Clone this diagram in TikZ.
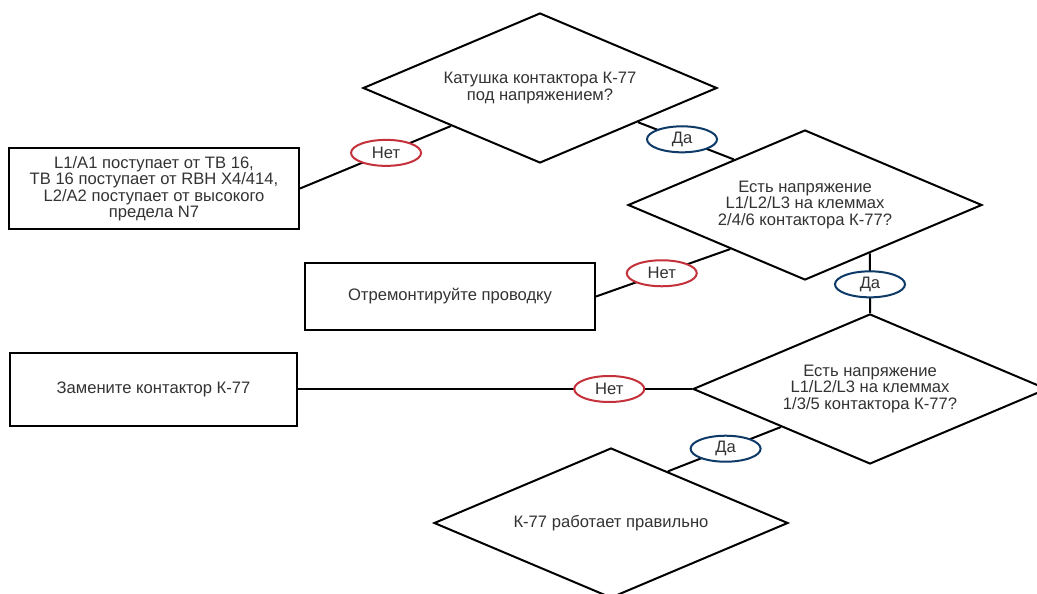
\documentclass[tikz,border=0pt]{standalone}
\usepackage{fontspec}
\setmainfont{Liberation Sans}
\usetikzlibrary{shapes.geometric,calc}
\definecolor{txt}{HTML}{333333}
\definecolor{nored}{HTML}{C4313B}
\definecolor{yesblue}{HTML}{0E3A68}
\begin{document}
\begin{tikzpicture}[x=1pt,y=-1pt,
  every node/.style={font=\fontsize{16.6}{16.5}\selectfont, text=txt},
  dec/.style={shape=diamond, draw=black, line width=2pt, minimum width=354pt, minimum height=150pt, inner sep=0pt, shape aspect=2.36, align=center},
  act/.style={draw=black, line width=2pt, inner sep=0pt, align=center},
  conn/.style={draw=black, line width=2pt},
  nolab/.style={ellipse, draw=nored, line width=2pt, fill=white, minimum width=70pt, minimum height=26pt, inner sep=0pt},
  yeslab/.style={ellipse, draw=yesblue, line width=2pt, fill=white, minimum width=70pt, minimum height=26pt, inner sep=0pt}
]
\useasboundingbox (0,0) rectangle (1037,594);
\clip (0,0) rectangle (1037,594);
\fill[white] (0,0) rectangle (1037,594);

\node[dec] (d1) at (540,88) {Катушка контактора К-77\\под напряжением?};
\node[dec] (d2) at (805,205) {Есть напряжение\\L1/L2/L3 на клеммах\\2/4/6 контактора К-77?};
\node[dec] (d3) at (870,389) {Есть напряжение\\L1/L2/L3 на клеммах\\1/3/5 контактора К-77?};
\node[dec] (d4) at (611,523) {К-77 работает правильно};

\node[act, minimum width=290pt, minimum height=81pt] (b1) at (154,188.5) {L1/A1 поступает от TB 16,\\TB 16 поступает от RBH X4/414,\\L2/A2 поступает от высокого\\предела N7};
\node[act, minimum width=290pt, minimum height=67pt] (b2) at (450,296.5) {Отремонтируйте проводку};
\node[act, minimum width=287pt, minimum height=73pt] (b3) at (153.5,389) {Замените контактор К-77};

\coordinate (d1n) at ($(d1.west)!0.5!(d1.south)$);
\coordinate (d1y) at ($(d1.east)!0.45!(d1.south)$);
\coordinate (d2in) at ($(d2.west)!0.6!(d2.north)$);
\coordinate (d2n) at ($(d2.west)!0.58!(d2.south)$);
\coordinate (d2y) at ($(d2.east)!0.635!(d2.south)$);
\coordinate (d3y) at ($(d3.west)!0.5!(d3.south)$);
\coordinate (d4in) at ($(d4.north)!0.32!(d4.east)$);

\draw[conn] (d1n) -- (b1.east) node[nolab, pos=0.43] (n1) {Нет};
\draw[conn] (d1y) -- (d2in) node[yeslab, pos=0.46] (y1) {Да};
\draw[conn] (d2n) -- (b2.east) node[nolab, pos=0.51] (n2) {Нет};
\draw[conn] (d2y) -- (d3.north) node[yeslab, pos=0.52] (y2) {Да};
\draw[conn] (d3.west) -- (b3.east) node[nolab, pos=0.21] (n3) {Нет};
\draw[conn] (d3y) -- (d4in) node[yeslab, pos=0.49] (y3) {Да};
\end{tikzpicture}
\end{document}
